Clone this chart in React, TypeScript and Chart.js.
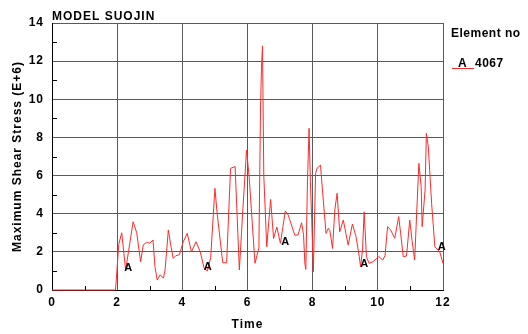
import React, { useEffect, useRef } from 'react';
import { Chart, registerables } from 'chart.js';

Chart.register(...registerables);

// ---- data ----
const timeValues = [
  0, 1.95, 2.05, 2.14, 2.26, 2.49, 2.6, 2.72, 2.8, 2.9, 3.0, 3.1, 3.16, 3.23, 3.32, 3.42, 3.47,
  3.57, 3.65, 3.72, 3.8, 3.91, 4.03, 4.15, 4.28, 4.42, 4.55, 4.67, 4.77, 4.87, 5.0, 5.07, 5.24,
  5.36, 5.48, 5.62, 5.75, 5.85, 5.97, 6.05, 6.23, 6.35, 6.4, 6.43, 6.46, 6.5, 6.59, 6.71, 6.8,
  6.9, 7.01, 7.16, 7.25, 7.45, 7.55, 7.66, 7.72, 7.76, 7.79, 7.84, 7.89, 7.93, 7.97, 8.02, 8.09,
  8.14, 8.24, 8.3, 8.41, 8.48, 8.53, 8.61, 8.68, 8.75, 8.83, 8.94, 9.02, 9.09, 9.22, 9.33, 9.43,
  9.47, 9.53, 9.58, 9.65, 9.73, 9.85, 10.03, 10.15, 10.22, 10.3, 10.39, 10.52, 10.64, 10.7,
  10.78, 10.88, 10.98, 11.05, 11.13, 11.21, 11.26, 11.33, 11.36, 11.45, 11.49, 11.55, 11.65,
  11.75, 11.9, 12.0,
];
const stressValues = [
  0, 0, 2.4, 3.0, 1.05, 3.58, 3.0, 1.48, 2.36, 2.5, 2.45, 2.62, 1.22, 0.52, 0.8, 0.62, 1.05,
  3.15, 2.3, 1.66, 1.8, 1.85, 2.53, 2.97, 2.0, 2.53, 2.0, 1.14, 1.0, 1.7, 5.33, 4.0, 1.43,
  1.43, 6.38, 6.47, 1.05, 4.0, 7.34, 5.94, 1.4, 2.2, 9.6, 11.7, 12.8, 6.0, 2.27, 4.75, 2.7,
  3.3, 2.45, 4.14, 3.93, 2.88, 2.88, 3.53, 2.9, 1.4, 1.08, 5.68, 8.48, 5.68, 3.7, 0.96, 6.12,
  6.4, 6.55, 5.25, 2.97, 3.23, 3.1, 2.18, 4.2, 5.07, 3.05, 3.67, 2.97, 2.36, 3.46, 2.8, 1.75,
  1.22, 2.1, 4.1, 1.75, 1.4, 1.48, 1.75, 1.57, 1.8, 3.32, 3.15, 2.71, 3.85, 2.97,
  1.75, 1.78, 3.67, 2.6, 1.57, 4.72, 6.64, 5.42, 3.32, 5.25, 8.22, 7.5, 4.55,
  2.27, 2.0, 1.4,
];
const markerTimes = [2.34, 4.78, 7.16, 9.58, 11.96];
const markerStresses = [1.18, 1.2, 2.52, 1.34, 2.26];

const chartTitle = 'MODEL SUOJIN';
const xAxisTitle = 'Time';
const yAxisTitle = 'Maximum Shear Stress (E+6)';
const legendTitle = 'Element no';
const seriesSymbol = 'A';
const seriesName = '4067';

const FONT = '"Liberation Sans", Arial, sans-serif';
const LINE_COLOR = '#ff2a2a';

const decorPlugin = {
  id: 'decor',
  beforeDraw(chart: any) {
    chart.ctx.letterSpacing = '1px';
  },
  afterDraw(chart: any) {
    const { ctx, chartArea, scales } = chart;
    const x = scales.x;
    const y = scales.y;
    ctx.save();
    ctx.letterSpacing = '1px';
    // minor ticks
    ctx.strokeStyle = '#000';
    ctx.lineWidth = 1;
    ctx.beginPath();
    for (let v = 1; v < 14; v += 2) {
      const py = Math.round(y.getPixelForValue(v)) + 0.5;
      ctx.moveTo(chartArea.left, py);
      ctx.lineTo(chartArea.left + 5, py);
    }
    for (let v = 1; v < 12; v += 2) {
      const px = Math.round(x.getPixelForValue(v)) + 0.5;
      ctx.moveTo(px, chartArea.bottom);
      ctx.lineTo(px, chartArea.bottom - 4);
    }
    ctx.stroke();

    // series symbol markers
    ctx.fillStyle = '#000';
    ctx.font = `bold 11px ${FONT}`;
    ctx.textAlign = 'center';
    ctx.textBaseline = 'middle';
    markerTimes.forEach((t, i) => {
      ctx.fillText(seriesSymbol, x.getPixelForValue(t) + 0.5, y.getPixelForValue(markerStresses[i]));
    });

    // title
    ctx.font = `bold 12px ${FONT}`;
    ctx.textAlign = 'left';
    ctx.textBaseline = 'alphabetic';
    ctx.fillText(chartTitle, chartArea.left, 20);

    // legend
    ctx.letterSpacing = '0.5px';
    ctx.fillText(legendTitle, 451, 37);
    ctx.fillText(seriesSymbol, 458, 67);
    ctx.fillText(seriesName, 475, 67);
    ctx.strokeStyle = LINE_COLOR;
    ctx.beginPath();
    ctx.moveTo(452, 68.5);
    ctx.lineTo(474, 68.5);
    ctx.stroke();
    ctx.restore();
  },
};

export default function App() {
  const canvasRef = useRef<HTMLCanvasElement | null>(null);

  useEffect(() => {
    const canvas = canvasRef.current;
    if (!canvas) return;
    const chart = new Chart(canvas, {
      type: 'line',
      data: {
        datasets: [
          {
            label: seriesName,
            data: timeValues.map((t, i) => ({ x: t, y: stressValues[i] })),
            borderColor: LINE_COLOR,
            borderWidth: 1,
            pointRadius: 0,
            tension: 0,
            fill: false,
            clip: false as any,
          },
        ],
      },
      options: {
        responsive: false,
        animation: false,
        devicePixelRatio: 1,
        layout: { padding: { top: 23, right: 85, left: 0, bottom: 0 } },
        plugins: {
          legend: { display: false },
          tooltip: { enabled: false },
        },
        scales: {
          x: {
            type: 'linear',
            min: 0,
            max: 12,
            ticks: {
              stepSize: 2,
              color: '#000',
              font: { family: FONT, size: 12, weight: 'bold' },
              padding: 5,
              maxRotation: 0,
            },
            grid: { color: '#5a5a5a', lineWidth: 1, drawTicks: false },
            border: { color: '#000', width: 1 },
            title: {
              display: true,
              text: xAxisTitle,
              color: '#000',
              font: { family: FONT, size: 12, weight: 'bold' },
              padding: { top: 0, bottom: 2 },
            },
            afterFit: (s: any) => {
              s.height = 44;
            },
          },
          y: {
            type: 'linear',
            min: 0,
            max: 14,
            ticks: {
              stepSize: 2,
              color: '#000',
              font: { family: FONT, size: 12, weight: 'bold' },
              padding: 8,
            },
            grid: { color: '#5a5a5a', lineWidth: 1, drawTicks: false },
            border: { color: '#000', width: 1 },
            title: {
              display: true,
              text: yAxisTitle,
              color: '#000',
              font: { family: FONT, size: 12, weight: 'bold' },
              padding: { top: 10, bottom: 0 },
            },
            afterFit: (s: any) => {
              s.width = 52;
            },
          },
        },
      } as any,
      plugins: [decorPlugin],
    });
    return () => chart.destroy();
  }, []);

  return (
    <div style={{ position: 'fixed', left: 0, top: 0, width: 528, height: 334, background: '#fff' }}>
      <canvas ref={canvasRef} width={528} height={334} style={{ display: 'block' }} />
    </div>
  );
}
